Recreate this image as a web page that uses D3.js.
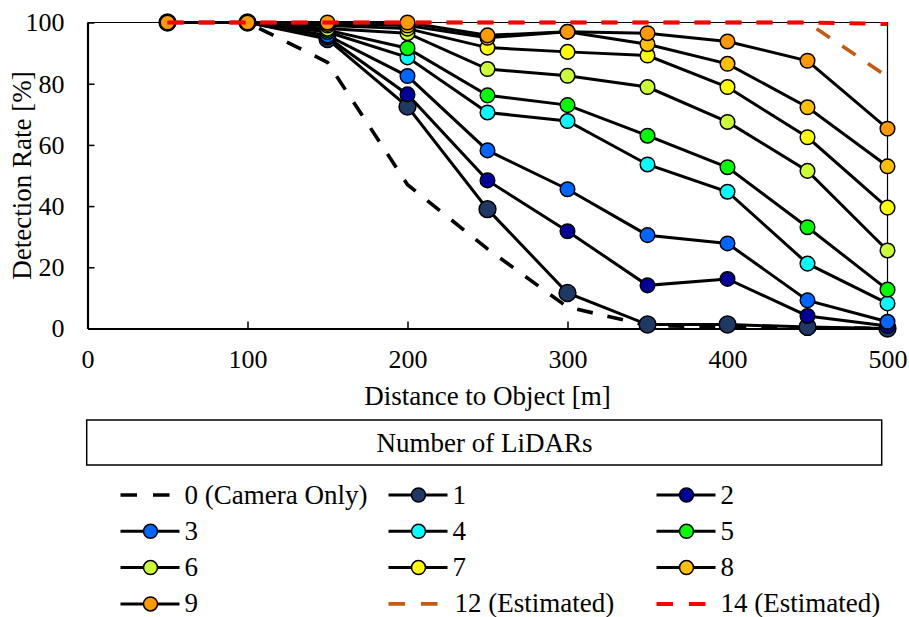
<!DOCTYPE html>
<html>
<head>
<meta charset="utf-8">
<script src="https://cdn.jsdelivr.net/npm/d3@7"></script>
</head>
<body style="margin:0">
<script>
// distances (m)
var distances = [50, 100, 150, 200, 250, 300, 350, 400, 450, 500];

// detection rate (%) per number of LiDARs
var cam0  = [100, 100, 87, 47, 26, 7, 1, 0.5, 0.3, 0];
var lid1  = [100, 100, 94.6, 72.5, 39, 11.6, 1.3, 1.3, 0.5, 0];
var lid2  = [100, 100, 95.2, 76.5, 48.4, 31.8, 14.1, 16.2, 4.1, 0.8];
var lid3  = [100, 100, 95.8, 82.5, 58.2, 45.5, 30.5, 27.8, 9.2, 2.2];
var lid4  = [100, 100, 96.9, 88.6, 70.6, 67.8, 53.6, 44.7, 21.2, 8.2];
var lid5  = [100, 100, 97.5, 91.6, 76.2, 73, 63, 52.7, 33.1, 12.7];
var lid6  = [100, 100, 98, 96.5, 84.8, 82.6, 78.9, 67.5, 51.5, 25.5];
var lid7  = [100, 100, 99, 98, 91.8, 90.4, 89.2, 78.9, 62.5, 39.5];
var lid8  = [100, 100, 99.5, 99, 95, 97, 92.9, 86.5, 72.3, 53];
var lid9  = [100, 100, 100, 100, 95.8, 97, 96.5, 93.8, 87.5, 65.3];
var est12 = [100, 100, 100, 100, 100, 100, 100, 100, 100, 82.3];
var est14 = [100, 100, 100, 100, 100, 100, 100, 100, 100, 99.5];

var xTicks = [0, 100, 200, 300, 400, 500];
var yTicks = [0, 20, 40, 60, 80, 100];

var seriesNames = ["0 (Camera Only)", "1", "2", "3", "4", "5", "6", "7", "8", "9", "12 (Estimated)", "14 (Estimated)"];
var seriesValues = [cam0, lid1, lid2, lid3, lid4, lid5, lid6, lid7, lid8, lid9, est12, est14];
var seriesColors = [null, "#1f3864", "#000099", "#0066ff", "#00ffff", "#00ff00", "#ccff33", "#ffff00", "#ffc000", "#ff9900", null, null];
var lineColors = ["#000", "#000", "#000", "#000", "#000", "#000", "#000", "#000", "#000", "#000", "#c55a11", "#ff0000"];

var W = 909, H = 617;
var FONT = "'Liberation Serif', monospace";
var plot = {left: 87.5, right: 887.5, top: 22.5, bottom: 328.5};

var svg = d3.select("body").append("svg")
  .attr("width", W)
  .attr("height", H);

var x = d3.scaleLinear().domain([0, 500]).range([plot.left, plot.right]);
var y = d3.scaleLinear().domain([0, 100]).range([plot.bottom, plot.top]);

// frame (thin top / right)
svg.append("path")
  .attr("d", "M" + plot.left + "," + plot.top + "H" + plot.right + "V" + plot.bottom)
  .attr("fill", "none")
  .attr("stroke", "#000")
  .attr("stroke-width", 1.2);

// axes, ticks pointing inward
var yAxis = svg.append("g")
  .attr("transform", "translate(" + plot.left + ",0)")
  .call(d3.axisLeft(y).tickValues(yTicks).tickSizeInner(-7).tickSizeOuter(0).tickPadding(23));
var xAxis = svg.append("g")
  .attr("transform", "translate(0," + plot.bottom + ")")
  .call(d3.axisBottom(x).tickValues(xTicks).tickSizeInner(-7).tickSizeOuter(0).tickPadding(21));

[xAxis, yAxis].forEach(function(g) {
  g.attr("font-family", null).attr("font-size", null);
  g.select(".domain").attr("stroke-width", 2.2);
  g.selectAll(".tick line").attr("stroke-width", 1.5);
  g.selectAll(".tick text")
    .style("font-family", FONT)
    .style("font-size", "26px");
});
xAxis.selectAll(".tick").filter(function(d) { return d === 0; }).select("line").remove();
yAxis.selectAll(".tick").filter(function(d) { return d === 0; }).select("line").remove();

function label(sel, size) {
  return sel.style("font-family", FONT).style("font-size", size + "px");
}

// axis titles
label(svg.append("text"), 27)
  .attr("x", (plot.left + plot.right) / 2)
  .attr("y", 405)
  .attr("text-anchor", "middle")
  .text("Distance to Object [m]");

label(svg.append("text"), 27)
  .attr("transform", "translate(31," + (plot.top + plot.bottom) / 2 + ") rotate(-90)")
  .attr("text-anchor", "middle")
  .text("Detection Rate [%]");

// series
var line = d3.line()
  .x(function(d, i) { return x(distances[i]); })
  .y(function(d) { return y(d); });

function dashOf(i) { return (i === 0 || i >= 10) ? "16,15" : null; }
function widthOf(i) { return i === 11 ? 4 : (i === 0 || i === 10) ? 3.6 : 3; }
function radiusOf(i) { return i === 1 ? 8.4 : 7.3; }

seriesValues.forEach(function(vals, i) {
  var g = svg.append("g");
  g.append("path")
    .attr("d", line(vals))
    .attr("fill", "none")
    .attr("stroke", lineColors[i])
    .attr("stroke-width", widthOf(i))
    .attr("stroke-dasharray", dashOf(i));
  if (seriesColors[i]) {
    g.selectAll("circle")
      .data(vals)
      .enter()
      .append("circle")
      .attr("cx", function(d, j) { return x(distances[j]); })
      .attr("cy", function(d) { return y(d); })
      .attr("r", radiusOf(i))
      .attr("fill", seriesColors[i])
      .attr("stroke", "#000")
      .attr("stroke-width", 1.5);
  }
});

// legend
svg.append("rect")
  .attr("x", 86.7).attr("y", 420)
  .attr("width", 795).attr("height", 45)
  .attr("fill", "none")
  .attr("stroke", "#000")
  .attr("stroke-width", 1.5);
label(svg.append("text"), 27)
  .attr("x", 484.5).attr("y", 452)
  .attr("text-anchor", "middle")
  .text("Number of LiDARs");

var legend = svg.append("g");
seriesNames.forEach(function(name, i) {
  var col = i % 3, row = Math.floor(i / 3);
  var x0 = 120.5 + 268 * col, cy = 495 + 36.3 * row;
  var item = legend.append("g");
  if (seriesColors[i]) {
    item.append("line")
      .attr("x1", x0).attr("x2", x0 + 59)
      .attr("y1", cy).attr("y2", cy)
      .attr("stroke", lineColors[i])
      .attr("stroke-width", 3);
    item.append("circle")
      .attr("cx", x0 + 30).attr("cy", cy)
      .attr("r", 7)
      .attr("fill", seriesColors[i])
      .attr("stroke", "#000")
      .attr("stroke-width", 1.5);
  } else {
    item.append("line")
      .attr("x1", x0).attr("x2", x0 + 50)
      .attr("y1", cy).attr("y2", cy)
      .attr("stroke", lineColors[i])
      .attr("stroke-width", i === 11 ? 4 : 3.6)
      .attr("stroke-dasharray", "16.5,16");
  }
  label(item.append("text"), 27)
    .attr("x", x0 + 64 + (i === 10 ? 2 : 0))
    .attr("y", cy + 8.5)
    .text(name);
});
</script>
</body>
</html>
